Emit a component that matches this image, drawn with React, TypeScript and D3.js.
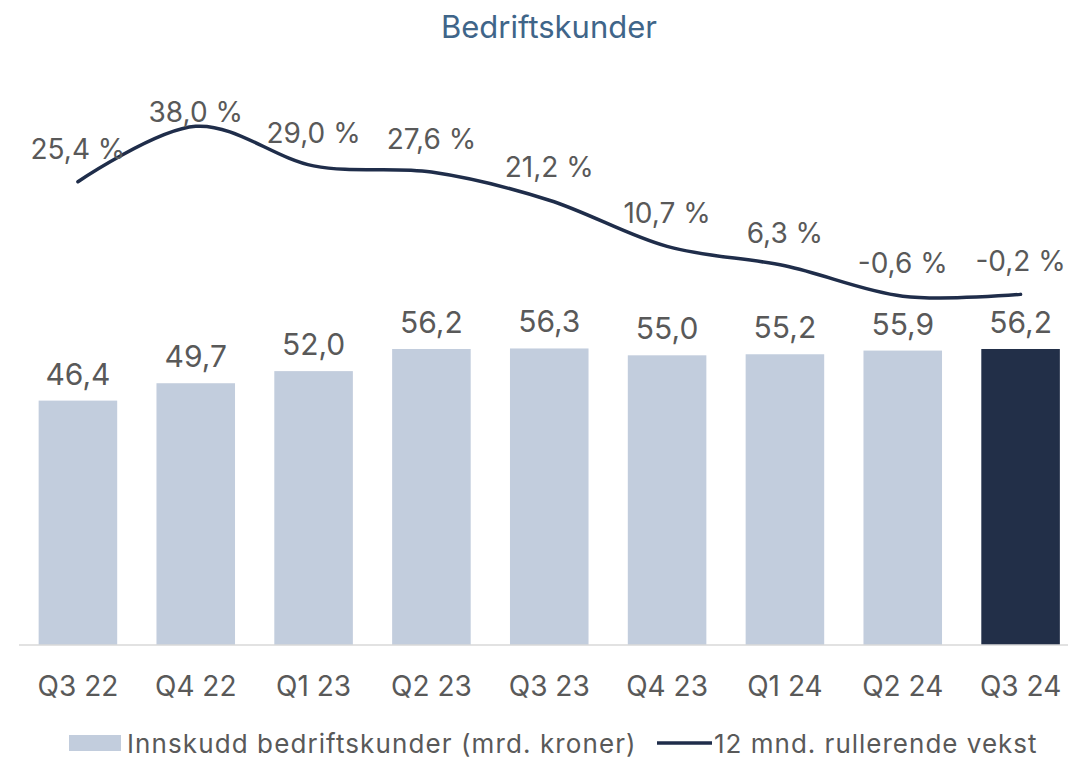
import React from "react";
import * as d3 from "d3";

const categories = ["Q3 22", "Q4 22", "Q1 23", "Q2 23", "Q3 23", "Q4 23", "Q1 24", "Q2 24", "Q3 24"];
const deposits = [46.4, 49.7, 52.0, 56.2, 56.3, 55.0, 55.2, 55.9, 56.2];
const growth = [25.4, 38.0, 29.0, 27.6, 21.2, 10.7, 6.3, -0.6, -0.2];
const title = "Bedriftskunder";
const legendBar = "Innskudd bedriftskunder (mrd. kroner)";
const legendLine = "12 mnd. rullerende vekst";

const W = 1068;
const H = 758;
const FONT = "Inter, 'Liberation Sans', Arial, sans-serif";
const TEXT = "#595959";
const LIGHT = "#c2cddd";
const DARK = "#222f48";
const LINE = "#1f2d4a";

const locale = d3.formatLocale({ decimal: ",", thousands: " ", grouping: [3], currency: ["", ""], minus: "-" });
const f1 = locale.format(".1f");

export default function App() {
  const x = d3.scaleBand<string>().domain(categories).range([19, 1079.5]).paddingInner(1 / 3).paddingOuter(1 / 6);
  const yBar = d3.scaleLinear().domain([0, 100]).range([645, 118.3]);
  const yPct = d3.scaleLinear().domain([0, 40]).range([293.5, 117.5]);
  const cx = (c: string) => (x(c) as number) + x.bandwidth() / 2;

  const line = d3
    .line<number>()
    .x((_, i) => cx(categories[i]))
    .y((v) => yPct(v))
    .curve(d3.curveCardinal.tension(0));

  return (
    <svg width={W} height={H} style={{ display: "block", position: "absolute", left: 0, top: 0 }} fontFamily={FONT}>
      <rect width={W} height={H} fill="#fff" />
      <text x={549} y={38} textAnchor="middle" fontSize={31} fill="#3f6589">
        {title}
      </text>
      {categories.map((c, i) => (
        <rect
          key={c}
          x={x(c)}
          y={yBar(deposits[i])}
          width={x.bandwidth()}
          height={yBar(0) - yBar(deposits[i])}
          fill={i === categories.length - 1 ? DARK : LIGHT}
        />
      ))}
      <line x1={19} x2={W} y1={yBar(0)} y2={yBar(0)} stroke="#d9d9d9" strokeWidth={1.5} />
      {categories.map((c, i) => (
        <text key={"bl" + c} x={cx(c)} y={yBar(deposits[i]) - 16} textAnchor="middle" fontSize={30} fill={TEXT}>
          {f1(deposits[i])}
        </text>
      ))}
      <path d={line(growth) || ""} fill="none" stroke={LINE} strokeWidth={3.5} strokeLinecap="round" />
      {categories.map((c, i) => (
        <text
          key={"pl" + c}
          x={cx(c)}
          y={Math.max(yPct(growth[i]) - 23, 122)}
          textAnchor="middle"
          fontSize={28}
          fill={TEXT}
        >
          {f1(growth[i]) + " %"}
        </text>
      ))}
      {categories.map((c) => (
        <text key={"ax" + c} x={cx(c)} y={696} textAnchor="middle" fontSize={28} fill={TEXT}>
          {c}
        </text>
      ))}
      <rect x={69} y={735} width={52} height={16} fill={LIGHT} />
      <text x={127} y={753} fontSize={26} letterSpacing={1.1} fill={TEXT}>
        {legendBar}
      </text>
      <line x1={657} x2={712} y1={743} y2={743} stroke={LINE} strokeWidth={3.5} />
      <text x={714} y={753} fontSize={26} letterSpacing={1} fill={TEXT}>
        {legendLine}
      </text>
    </svg>
  );
}
